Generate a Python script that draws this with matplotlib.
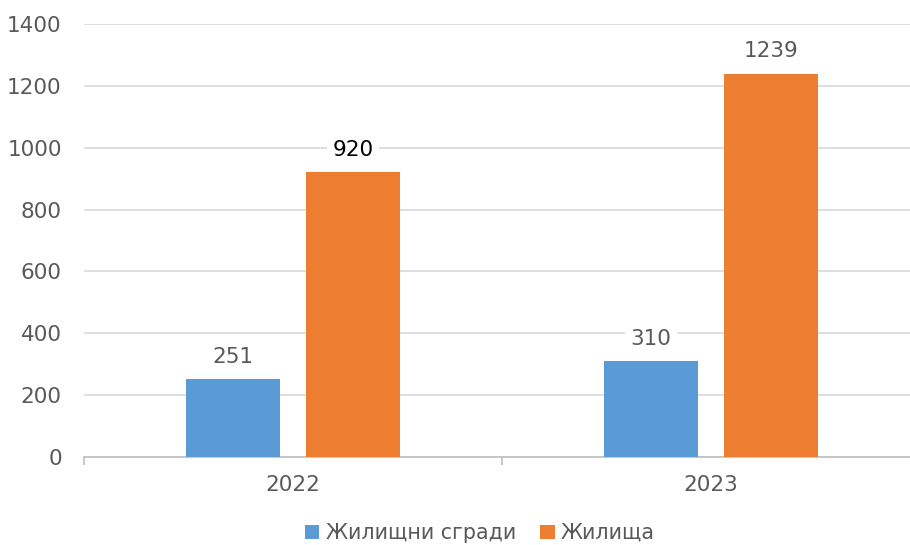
import matplotlib
matplotlib.use("Agg")
import matplotlib.pyplot as plt
import numpy as np

categories = ["2022", "2023"]
series_names = ["Жилищни сгради", "Жилища"]
buildings = [251, 310]
dwellings = [920, 1239]
colors = ["#5B9BD5", "#ED7D31"]
yticks = [0, 200, 400, 600, 800, 1000, 1200, 1400]

plt.rcParams['font.family'] = ['DejaVu Sans']
fig = plt.figure(figsize=(9.1, 5.45), dpi=100)
ax = fig.add_axes([84/910, (545-457)/545, 836/910, (457-24)/545])

x = np.arange(len(categories))
w = 0.225
off = 0.143
b1 = ax.bar(x - off, buildings, w, color=colors[0], label=series_names[0], zorder=3)
b2 = ax.bar(x + off, dwellings, w, color=colors[1], label=series_names[1], zorder=3)

txt = "#595959"
fs = 15.5
for bars, vals, is_second in ((b1, buildings, False), (b2, dwellings, True)):
    for i, (r, v) in enumerate(zip(bars, vals)):
        c = "black" if (is_second and i == 0) else txt
        ax.annotate(f"{v}", (r.get_x() + r.get_width()/2, v), xytext=(0, 9),
                    textcoords="offset points", ha="center", va="bottom",
                    fontsize=fs, color=c, zorder=4,
                    bbox=dict(boxstyle="square,pad=0.25", fc="white", ec="none"))

ax.set_xlim(-0.5, 1.5)
ax.set_ylim(0, 1400)
ax.set_yticks(yticks)
ax.set_yticklabels([str(t) for t in yticks])
ax.yaxis.grid(True, color="#D9D9D9", linewidth=1.2, zorder=0)
ax.set_axisbelow(True)
for s in ["top", "right", "left"]:
    ax.spines[s].set_visible(False)
ax.spines["bottom"].set_color("#BFBFBF")
ax.spines["bottom"].set_linewidth(1.2)
ax.tick_params(axis="y", length=0, labelsize=fs, labelcolor=txt, pad=16)
ax.set_xticks(x)
ax.set_xticklabels(categories)
ax.tick_params(axis="x", length=0, labelsize=fs, labelcolor=txt, pad=13)
ax.set_xticks([-0.5, 0.5, 1.5], minor=True)
ax.tick_params(axis="x", which="minor", length=6, color="#BFBFBF", width=1.2)

fig.legend(handles=[b1, b2], labels=series_names, loc="center", bbox_to_anchor=(480/910, (545-533)/545),
           ncol=2, frameon=False, fontsize=14.8, labelcolor=txt, handlelength=0.7, handleheight=0.7,
           handletextpad=0.3, columnspacing=1.2)

fig.savefig("out.png", dpi=100, facecolor="white")
